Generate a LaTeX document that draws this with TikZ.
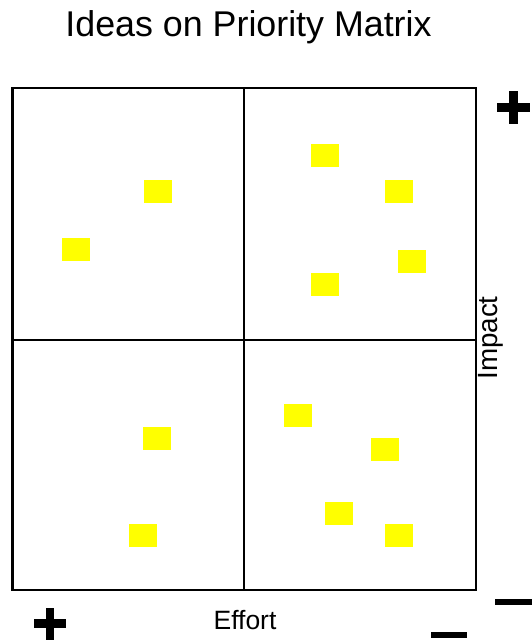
\documentclass[tikz,border=0pt]{standalone}
\usepackage{fontspec}
\setmainfont{Liberation Sans}
\definecolor{stickyY}{HTML}{FFFF00}
\begin{document}
\begin{tikzpicture}[x=1pt,y=-1pt,
  idea/.style={fill=stickyY,draw=none,minimum width=28pt,minimum height=23pt,inner sep=0pt},
  bar/.style={fill=black,draw=none,inner sep=0pt},
  frame/.style={line width=2.4pt,draw=black},
  divider/.style={line width=2.2pt,draw=black},
  lbl/.style={inner sep=0pt,font=\fontsize{26.5}{30}\selectfont}]
\useasboundingbox (0,0) rectangle (531,644);
% title
\node[inner sep=0pt,anchor=base,font=\fontsize{35.8}{40}\selectfont] (title) at (248.5,37) {Ideas on Priority Matrix};
% matrix frame
\coordinate (tl) at (12.5,88);
\coordinate (br) at (476,590);
\coordinate (vt) at (244,88);
\coordinate (vb) at (244,590);
\coordinate (hl) at (12.5,340);
\coordinate (hr) at (476,340);
\draw[divider] (vt) -- (vb);
\draw[divider] (hl) -- (hr);
\draw[frame] (tl) rectangle (br);
% ideas
\node[idea] (i1) at (157.5,191.5) {};
\node[idea] (i2) at (75.5,249.5) {};
\node[idea] (i3) at (325,156) {};
\node[idea] (i4) at (399,192) {};
\node[idea] (i5) at (412,261) {};
\node[idea] (i6) at (325,284) {};
\node[idea] (i7) at (157,438) {};
\node[idea] (i8) at (143,535) {};
\node[idea] (i9) at (298,415.5) {};
\node[idea] (i10) at (385,449.5) {};
\node[idea] (i11) at (339,513.5) {};
\node[idea] (i12) at (399,535.5) {};
% labels
\node[lbl,anchor=base] (effort) at (245,629) {Effort};
\node[lbl,anchor=base,rotate=90,font=\fontsize{27.8}{30}\selectfont] (impact) at (497,338) {Impact};
% plus / minus signs
\node[bar,minimum width=33pt,minimum height=9pt] (p1h) at (513.5,107.5) {};
\node[bar,minimum width=9pt,minimum height=33pt] (p1v) at (513.5,107.5) {};
\node[bar,minimum width=32pt,minimum height=8.5pt] (p2h) at (50,623.5) {};
\node[bar,minimum width=8.5pt,minimum height=32pt] (p2v) at (50,623.5) {};
\node[bar,minimum width=37pt,minimum height=6pt] (m1) at (513.5,602) {};
\node[bar,minimum width=36pt,minimum height=6pt] (m2) at (449,635) {};
\end{tikzpicture}
\end{document}
